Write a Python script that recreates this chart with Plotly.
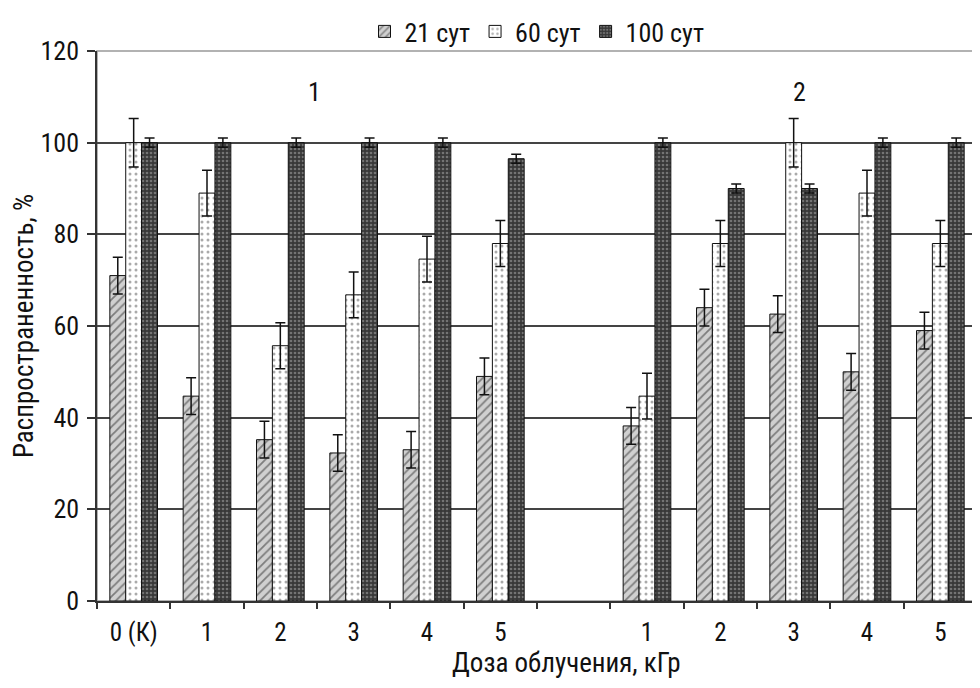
import plotly.graph_objects as go

categories = ["0 (К)", "1", "2", "3", "4", "5", "", "1", "2", "3", "4", "5"]
series_names = ["21 сут", "60 сут", "100 сут"]
v21 = [71, 44.7, 35.2, 32.3, 33, 49, None, 38.2, 64, 62.6, 50, 59]
v60 = [100, 89, 55.7, 66.8, 74.6, 78, None, 44.7, 78, 100, 89, 78]
v100 = [100, 100, 100, 100, 100, 96.5, None, 100, 90, 90, 100, 100]
e21 = [4, 4, 4, 4, 4, 4, None, 4, 4, 4, 4, 4]
e60 = [5.3, 5, 5, 5, 5, 5, None, 5, 5, 5.3, 5, 5]
e100 = [1, 1, 1, 1, 1, 1, None, 1, 1, 1, 1, 1]
group_labels = ["1", "2"]
group_label_pos = [2.47, 9.08]
x_title = "Доза облучения, кГр"
y_title = "Распространенность, %"

FONT = "Roboto Condensed, DejaVu Sans Condensed, sans-serif"
xs = list(range(len(categories)))

W, H = 972, 680
L, R, T, B = 89, 3, 43, 87
plot_h = H - T - B

styles = [
    dict(shape="/", bgcolor="#d0d0d0", fgcolor="#2a2a2a", size=6, solidity=0.3),
    dict(shape=".", bgcolor="#ffffff", fgcolor="#555555", size=6, solidity=0.2),
    dict(shape=".", bgcolor="#383838", fgcolor="#b0b0b0", size=4, solidity=0.35),
]

fig = go.Figure()
for name, vals, errs, st in zip(series_names, [v21, v60, v100], [e21, e60, e100], styles):
    fig.add_trace(go.Bar(
        x=xs, y=vals, name=name,
        marker=dict(color=st["bgcolor"], line=dict(color="#111111", width=1),
                    pattern=st),
        error_y=dict(type="data", array=errs, visible=True, color="#111111",
                     thickness=1.5, width=5),
    ))

for lab, xp in zip(group_labels, group_label_pos):
    fig.add_annotation(x=xp, y=111, text=lab, showarrow=False,
                       font=dict(family=FONT, size=26, color="#111"))

# x-axis title (slightly right of centre, as in the reference)
fig.add_annotation(xref="paper", yref="paper", x=0.534, y=-62 / plot_h,
                   xanchor="center", yanchor="middle", text=x_title, showarrow=False,
                   font=dict(family=FONT, size=27, color="#111"))

# gray frame (top and right)
fig.add_shape(type="rect", xref="paper", yref="paper", x0=0, y0=0, x1=1, y1=1,
              line=dict(color="#999999", width=1.5), layer="below")

fig.update_layout(
    width=W, height=H,
    margin=dict(l=L, r=R, t=T, b=B, autoexpand=False),
    paper_bgcolor="white", plot_bgcolor="white",
    barmode="group", bargap=0.35, bargroupgap=0,
    font=dict(family=FONT, size=25, color="#111"),
    showlegend=True,
    legend=dict(orientation="h", x=0.5, xanchor="center", xref="paper",
                yref="container", y=1, yanchor="top",
                font=dict(size=26), tracegroupgap=0,
                bgcolor="rgba(0,0,0,0)"),
    xaxis=dict(range=[-0.5, 11.5], tickmode="array", tickvals=xs, ticktext=categories,
               ticks="", showline=True, linecolor="#333333", linewidth=1.5,
               showgrid=False, zeroline=False, automargin=False,
               tickfont=dict(size=25), ticklabelstandoff=8,
               minor=dict(tickmode="array", tickvals=[i + 0.5 for i in range(-1, 12)],
                          ticks="outside", ticklen=6, tickcolor="#333333", tickwidth=1.5,
                          showgrid=False)),
    yaxis=dict(range=[0, 120], tickmode="array", tickvals=[0, 20, 40, 60, 80, 100, 120],
               ticks="outside", ticklen=8, tickcolor="#333333", tickwidth=1.5,
               showline=True, linecolor="#333333", linewidth=1.5,
               showgrid=True, gridcolor="#444444", gridwidth=1.5, zeroline=False,
               automargin=False, tickfont=dict(size=26), ticklabelstandoff=3,
               title=dict(text=y_title, font=dict(size=27), standoff=19)),
)

fig.write_html("out.html")
